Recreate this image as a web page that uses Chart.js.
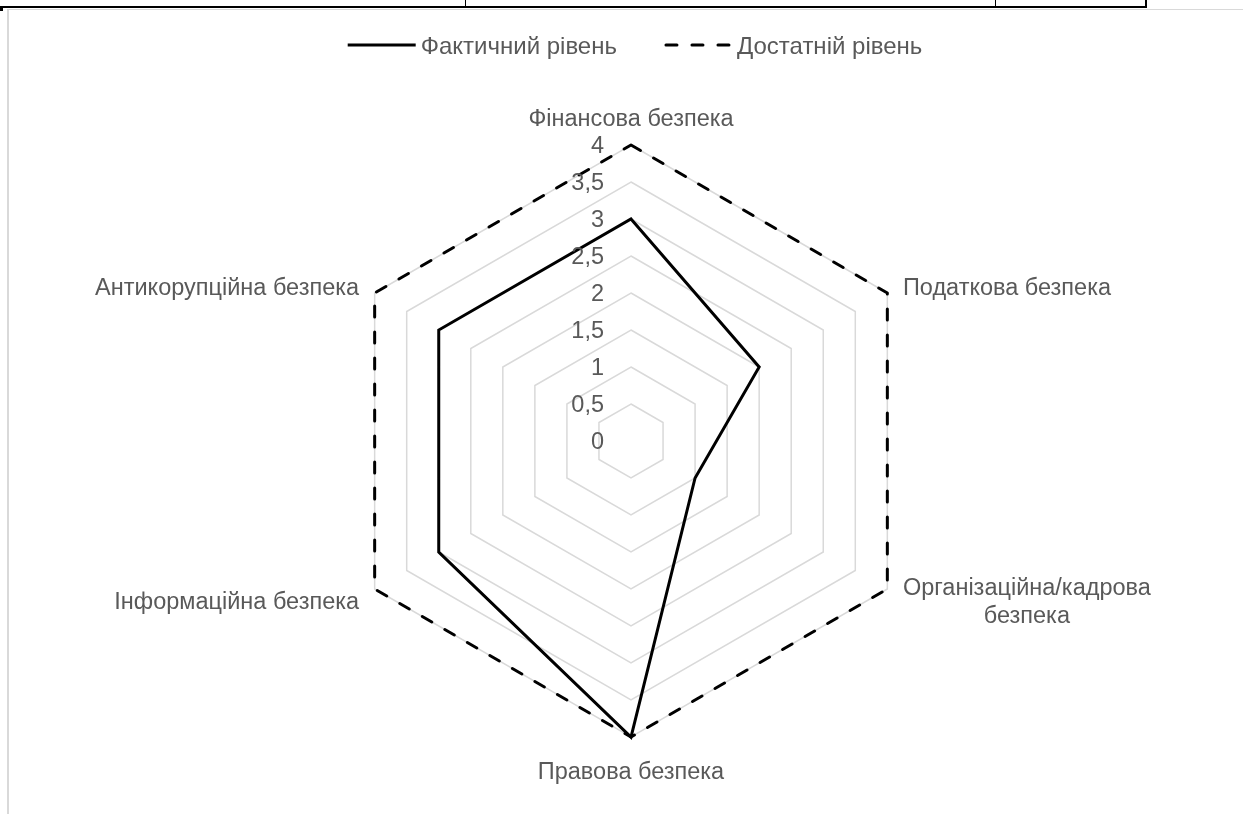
<!DOCTYPE html>
<html>
<head>
<meta charset="utf-8">
<title>Radar</title>
<script src="https://cdn.jsdelivr.net/npm/chart.js@4.4.1/dist/chart.umd.min.js"></script>
<style>
  body { margin: 0; background: #fff; }
  #wrap { position: relative; width: 1243px; height: 814px; overflow: hidden; }
  #radarChart { position: absolute; left: 0; top: 0; }
  .ln { position: absolute; }
</style>
</head>
<body>
<div id="wrap">
  <canvas id="radarChart" width="1243" height="814"></canvas>
  <!-- bottom edge of the table above the figure -->
  <div class="ln" style="left:0;top:6px;width:1147px;height:2px;background:#000"></div>
  <div class="ln" style="left:465px;top:0;width:1px;height:7px;background:#000"></div>
  <div class="ln" style="left:995px;top:0;width:1px;height:7px;background:#000"></div>
  <div class="ln" style="left:1145px;top:0;width:2px;height:7px;background:#000"></div>
  <div class="ln" style="left:0;top:8px;width:3px;height:3px;background:#000"></div>
  <!-- chart frame -->
  <div class="ln" style="left:8px;top:9px;width:1235px;height:1px;background:#d9d9d9"></div>
  <div class="ln" style="left:7px;top:9px;width:2px;height:805px;background:#d9d9d9"></div>
</div>
<script>
// Axis categories (multi line label is an array)
let categories = [
  'Фінансова безпека',
  'Податкова безпека',
  ['Організаційна/кадрова', 'безпека'],
  'Правова безпека',
  'Інформаційна безпека',
  'Антикорупційна безпека'
];
// Series values
let actualLevel = [3, 2, 1, 4, 3, 3];
let sufficientLevel = [4, 4, 4, 4, 4, 4];
// Radial tick values and labels (decimal comma)
let tickValues = [0, 0.5, 1, 1.5, 2, 2.5, 3, 3.5, 4];
let tickLabels = ['0', '0,5', '1', '1,5', '2', '2,5', '3', '3,5', '4'];

let textColor = '#595959';
let fontFamily = "'Liberation Sans', Arial, sans-serif";
let labelFont = 23.5;
let legendFont = 24;

// Plugin: tick labels to the left of the vertical axis
let tickLabelPlugin = {
  id: 'tickLabels',
  afterDraw: (chart) => {
    let scale = chart.scales.r;
    let ctx = chart.ctx;
    ctx.save();
    ctx.font = labelFont + 'px ' + fontFamily;
    ctx.fillStyle = textColor;
    ctx.textAlign = 'right';
    ctx.textBaseline = 'middle';
    tickValues.forEach((v, i) => {
      let d = scale.getDistanceFromCenterForValue(v);
      ctx.fillText(tickLabels[i], scale.xCenter - 27, scale.yCenter - d + 2);
    });
    ctx.restore();
  }
};

// Plugin: category labels around the hexagon
let pointLabelPlugin = {
  id: 'pointLabelsCustom',
  afterDraw: (chart) => {
    let scale = chart.scales.r;
    let ctx = chart.ctx;
    let lineH = 28;
    ctx.save();
    ctx.font = labelFont + 'px ' + fontFamily;
    ctx.fillStyle = textColor;
    categories.forEach((label, i) => {
      let lines = Array.isArray(label) ? label : [label];
      let deg = Math.round(scale.getIndexAngle(i) * 180 / Math.PI) % 360;
      let pos;
      if (deg === 0) {
        pos = scale.getPointPosition(i, scale.drawingArea + 14);
        ctx.textAlign = 'center';
        ctx.textBaseline = 'bottom';
        ctx.fillText(lines[0], pos.x, pos.y);
      } else if (deg === 180) {
        pos = scale.getPointPosition(i, scale.drawingArea + 24);
        ctx.textAlign = 'center';
        ctx.textBaseline = 'top';
        ctx.fillText(lines[0], pos.x, pos.y);
      } else {
        pos = scale.getPointPosition(i, scale.drawingArea + 18);
        let right = deg < 180;
        let widths = lines.map(t => ctx.measureText(t).width);
        let blockW = Math.max(...widths);
        let left = right ? pos.x : pos.x - blockW;
        let y0 = pos.y + 5 - (lines.length - 1) * lineH / 2;
        ctx.textAlign = 'center';
        ctx.textBaseline = 'middle';
        lines.forEach((t, k) => {
          ctx.fillText(t, left + blockW / 2, y0 + k * lineH);
        });
      }
    });
    ctx.restore();
  }
};

// Plugin: legend with line samples on top
let legendPlugin = {
  id: 'lineLegend',
  afterDraw: (chart) => {
    let ctx = chart.ctx;
    let sampleW = 68, gap = 5, itemGap = 47, y = 45;
    ctx.save();
    ctx.font = legendFont + 'px ' + fontFamily;
    let sets = chart.data.datasets;
    let widths = sets.map(ds => sampleW + gap + ctx.measureText(ds.label).width);
    let total = widths.reduce((a, b) => a + b, 0) + itemGap * (sets.length - 1);
    let x = 635 - total / 2;
    sets.forEach((ds, i) => {
      ctx.strokeStyle = ds.borderColor;
      ctx.lineWidth = ds.borderWidth;
      ctx.lineCap = ds.borderCapStyle || 'butt';
      ctx.setLineDash(ds.borderDash || []);
      ctx.beginPath();
      ctx.moveTo(x + (ds.borderDash ? 2 : 0), y);
      ctx.lineTo(x + sampleW, y);
      ctx.stroke();
      ctx.setLineDash([]);
      ctx.fillStyle = textColor;
      ctx.textAlign = 'left';
      ctx.textBaseline = 'middle';
      ctx.fillText(ds.label, x + sampleW + gap, y + 2);
      x += widths[i] + itemGap;
    });
    ctx.restore();
  }
};

let ctx = document.getElementById('radarChart').getContext('2d');
let radarChart = new Chart(ctx, {
  type: 'radar',
  data: {
    labels: categories,
    datasets: [{
      label: 'Фактичний рівень',
      data: actualLevel,
      borderColor: '#000000',
      borderWidth: 3,
      borderJoinStyle: 'miter',
      fill: false,
      pointRadius: 0
    }, {
      label: 'Достатній рівень',
      data: sufficientLevel,
      borderColor: '#000000',
      borderWidth: 3,
      borderDash: [11, 15],
      borderCapStyle: 'round',
      borderJoinStyle: 'round',
      fill: false,
      pointRadius: 0
    }]
  },
  options: {
    responsive: false,
    animation: false,
    devicePixelRatio: 1,
    layout: {
      padding: { top: 145, bottom: 77, left: 20, right: 1 }
    },
    plugins: {
      legend: { display: false },
      tooltip: { enabled: false }
    },
    scales: {
      r: {
        min: 0,
        max: 4,
        ticks: { stepSize: 0.5, display: false },
        grid: { color: '#d9d9d9', lineWidth: 1.5 },
        angleLines: { display: false },
        pointLabels: { display: false }
      }
    }
  },
  plugins: [tickLabelPlugin, pointLabelPlugin, legendPlugin]
});
</script>
</body>
</html>
